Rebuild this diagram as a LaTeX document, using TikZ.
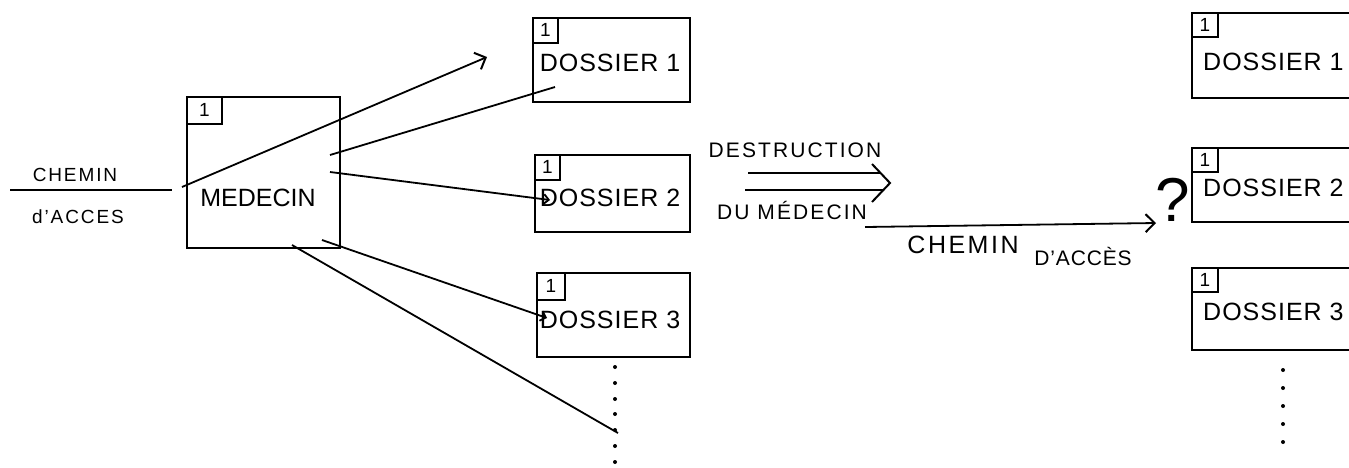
\documentclass[tikz,border=0pt]{standalone}
\usepackage{fontspec}
\setmainfont{Liberation Sans}
\usetikzlibrary{arrows.meta,calc}
\begin{document}
\begin{tikzpicture}[x=1pt,y=-1pt,
  box/.style={draw, line width=2.4pt, inner sep=0pt},
  tag/.style={draw, line width=2pt, inner sep=0pt, anchor=north west, font=\fontsize{19}{19}\selectfont},
  lbl/.style={inner sep=0pt, font=\fontsize{25}{25}\selectfont\addfontfeatures{LetterSpace=4}},
  small/.style={inner sep=0pt, font=\fontsize{19}{19}\selectfont\addfontfeatures{LetterSpace=10}},
  mid/.style={inner sep=0pt, font=\fontsize{21}{21}\selectfont\addfontfeatures{LetterSpace=10}},
  conn/.style={line width=1.8pt},
  barb/.style={-{Straight Barb[length=9pt,width=18pt,line width=2pt]}},
  sbarb/.style={-{Straight Barb[length=5pt,width=10pt,line width=1.8pt]}},
  dot/.style={circle, fill, inner sep=0pt, minimum size=4pt}]
\useasboundingbox (0,0) rectangle (1349,467);
\fill[white] (0,0) rectangle (1349,467);
\clip (0,0) rectangle (1349,467);

% Medecin box
\node[box, minimum width=153pt, minimum height=151pt] (med) at (263.5,172.5) {};
\node[tag, minimum width=35pt, minimum height=27pt] (medtag) at (med.north west) {1};
\node[lbl, font=\fontsize{25}{25}\selectfont] (medt) at (258,198) {MEDECIN};

% middle dossiers
\node[box, minimum width=157pt, minimum height=84pt] (d1) at (611.5,60) {};
\node[tag, minimum width=25pt, minimum height=25pt] (d1tag) at (d1.north west) {1};
\node[lbl] (d1t) at (610,63) {DOSSIER 1};
\node[box, minimum width=155pt, minimum height=77pt] (d2) at (612.5,193.5) {};
\node[tag, minimum width=25pt, minimum height=25pt] (d2tag) at (d2.north west) {1};
\node[lbl] (d2t) at (610,198) {DOSSIER 2};
\node[box, minimum width=153pt, minimum height=84pt] (d3) at (613.5,315) {};
\node[tag, minimum width=28pt, minimum height=27pt] (d3tag) at (d3.north west) {1};
\node[lbl] (d3t) at (610,320) {DOSSIER 3};

% right dossiers
\node[box, minimum width=208pt, minimum height=85pt] (r1) at (1296,55.5) {};
\node[tag, minimum width=26pt, minimum height=24pt] (r1tag) at (r1.north west) {1};
\node[lbl, anchor=west] (r1t) at (1203,62) {DOSSIER 1};
\node[box, minimum width=208pt, minimum height=74pt] (r2) at (1296,185) {};
\node[tag, minimum width=26pt, minimum height=24pt] (r2tag) at (r2.north west) {1};
\node[lbl, anchor=west] (r2t) at (1203,188) {DOSSIER 2};
\node[box, minimum width=208pt, minimum height=82pt] (r3) at (1296,309) {};
\node[tag, minimum width=26pt, minimum height=24pt] (r3tag) at (r3.north west) {1};
\node[lbl, anchor=west] (r3t) at (1203,312) {DOSSIER 3};

% left access path
\coordinate (ls) at (10,190);
\coordinate (le) at (172,190);
\draw[conn] (ls) -- (le);
\node[small] (cm1) at (75,175) {CHEMIN};
\node[small] (ac1) at (78,217) {d'ACCES};

% connectors from medecin
\coordinate (a0) at (182,187);
\coordinate (a0e) at (487,57);
\draw[conn, barb] (a0) -- (a0e);
\coordinate (a1) at (330,155);
\coordinate (a1e) at (555,87);
\draw[conn] (a1) -- (a1e);
\coordinate (a2) at (330,172);
\coordinate (a2e) at (550,200);
\draw[conn, sbarb] (a2) -- (a2e);
\coordinate (a3) at (322,240);
\coordinate (a3e) at (547,318);
\draw[conn, sbarb] (a3) -- (a3e);
\coordinate (a4) at (292,245);
\coordinate (a4e) at (618,433);
\draw[conn] (a4) -- (a4e);

% dots under middle column
\foreach \yy [count=\i] in {367,383,399,414,430,446,462}
  \node[dot] (md\i) at (615,\yy) {};
% dots under right column
\foreach \yy [count=\i] in {370,388,406,424,442}
  \node[dot] (rd\i) at (1283,\yy) {};

% destruction double arrow
\coordinate (da1) at (748,173);
\coordinate (da1e) at (880,173);
\coordinate (da2) at (745,190);
\coordinate (da2e) at (884,190);
\coordinate (dtip) at (890,183);
\draw[conn] (da1) -- (da1e);
\draw[conn] (da2) -- (da2e);
\draw[line width=2pt, line join=miter] ($(dtip)+(-18,-19)$) -- (dtip) -- ($(dtip)+(-18,19)$);
\node[mid] (dest) at (795,150) {DESTRUCTION};
\node[mid] (dumed) at (792,210) {DU MÉDECIN};

% second access path
\coordinate (cs) at (865,227);
\node[inner sep=0pt, font=\fontsize{62}{62}\selectfont] (q) at (1173,200) {?};
\coordinate (ce) at (1156,223);
\draw[conn, barb] (cs) -- (ce);
\node[inner sep=0pt, font=\fontsize{25}{25}\selectfont\addfontfeatures{LetterSpace=10}] (cm2) at (963,245) {CHEMIN};
\node[mid, font=\fontsize{21}{21}\selectfont\addfontfeatures{LetterSpace=4}] (ac2) at (1083,256) {D'ACCÈS};
\end{tikzpicture}
\end{document}
